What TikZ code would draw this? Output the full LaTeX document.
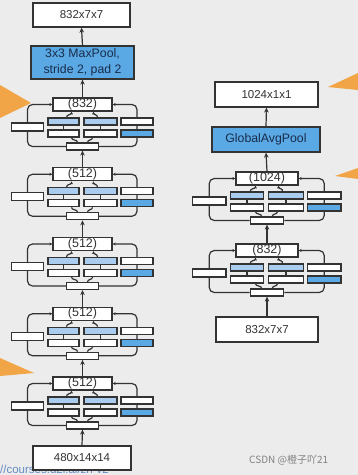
\documentclass[tikz,border=0pt]{standalone}
\usepackage{fontspec}
\setmainfont{Liberation Sans}
\newfontfamily\cjkfont{Noto Sans CJK SC}
\usetikzlibrary{arrows.meta,calc}
\pgfdeclarelayer{back}
\pgfdeclarelayer{lines}
\pgfsetlayers{back,lines,main}
\definecolor{bgc}{RGB}{236,236,236}
\definecolor{linec}{RGB}{51,51,51}
\definecolor{dblue}{RGB}{90,168,228}
\definecolor{lblue}{RGB}{170,204,238}
\definecolor{orangeA}{RGB}{242,165,70}
\definecolor{wmc}{RGB}{130,130,130}
\definecolor{urlc}{RGB}{100,140,195}

\newcommand{\incblock}[5]{%
\begin{scope}[shift={(#2,#3)},xscale=#5]
\node[box,minimum width=#5*59pt,minimum height=13pt,font=\fontsize{12.5}{13}\selectfont] (#1-cat) at (0,6.5) {#4};
\node[sbox,minimum width=#5*32pt] (#1-in) at (0,48.5) {};
\node[sbox,minimum width=#5*32pt,minimum height=8pt] (#1-p1) at (-55,29) {};
\node[sbox,fill=lblue,minimum width=#5*31pt] (#1-p2a) at (-19,23.5) {};
\node[sbox,minimum width=#5*31pt] (#1-p2b) at (-19,35.5) {};
\node[sbox,fill=lblue,minimum width=#5*33pt] (#1-p3a) at (18,23.5) {};
\node[sbox,minimum width=#5*33pt] (#1-p3b) at (18,35.5) {};
\node[sbox,minimum width=#5*32pt] (#1-p4a) at (54.5,23.5) {};
\node[sbox,fill=dblue,minimum width=#5*32pt] (#1-p4b) at (54.5,35.5) {};
\begin{pgfonlayer}{lines}
\draw[sarr,rounded corners=5pt] (#1-in.west) -| (#1-p1.center) |- (#1-cat.west);
\draw[sarr,rounded corners=5pt] (#1-in.east) -| (#1-p4b.center) |- (#1-cat.east);
\end{pgfonlayer}
\draw[lnk] (#1-p2b.north) -- (#1-p2a.south);
\draw[lnk] (#1-p3b.north) -- (#1-p3a.south);
\draw[lnk] ($(#1-in.north)+(-5,0)$) .. controls +(0,-3) and +(0,3) .. ($(#1-p2b.south)+(8,0)$);
\draw[lnk] ($(#1-in.north)+(5,0)$) .. controls +(0,-3) and +(0,3) .. ($(#1-p3b.south)+(-8,0)$);
\draw[sarr] ($(#1-p2a.north)+(3,0)$) .. controls +(0,-3) and +(0,3) .. ($(#1-cat.south)+(-11,0)$);
\draw[sarr] ($(#1-p3a.north)+(-3,0)$) .. controls +(0,-3) and +(0,3) .. ($(#1-cat.south)+(11,0)$);
\end{scope}}

\begin{document}
\begin{tikzpicture}[x=1pt,y=-1pt,
  box/.style={draw=linec,line width=1.2pt,fill=white,inner sep=0pt,text=linec,font=\fontsize{11.5}{13}\selectfont},
  bbox/.style={box,fill=dblue,text={rgb,255:red,25;green,45;blue,75},font=\fontsize{12.3}{16}\selectfont},
  sbox/.style={draw=linec,line width=1.2pt,fill=white,inner sep=0pt,minimum height=7pt},
  lnk/.style={draw=linec,line width=1.2pt},
  arr/.style={lnk,-{Stealth[length=5pt,width=4.5pt]}},
  sarr/.style={lnk,-{Stealth[length=3pt,width=3pt]}},
]
\begin{pgfonlayer}{back}
\fill[bgc] (0,0) rectangle (358,475);
\end{pgfonlayer}
\useasboundingbox (0,0) rectangle (358,475);

% orange pointers
\fill[orangeA] (0,85) -- (31,103) -- (0,118) -- cycle;
\fill[orangeA] (328,87) -- (358,73) -- (358,90) -- cycle;
\fill[orangeA] (335,176) -- (358,168) -- (358,179) -- cycle;
\fill[orangeA] (0,358) -- (34,373) -- (0,376) -- cycle;

% left column
\node[box,minimum width=97pt,minimum height=24pt] (out1) at (81.5,15) {832x7x7};
\node[bbox,minimum width=103pt,minimum height=33pt,align=center] (mp) at (82.5,62.5) {3x3 MaxPool,\\stride 2, pad 2};
\incblock{a}{82.5}{98}{(832)}{1}
\incblock{b}{82.5}{167.75}{(512)}{1}
\incblock{c}{82.5}{237.5}{(512)}{1}
\incblock{d}{82.5}{307.25}{(512)}{1}
\incblock{e}{82.5}{377}{(512)}{1}
\node[box,minimum width=98pt,minimum height=24pt] (in1) at (82,458) {480x14x14};
\draw[arr] (in1.north) -- (e-in.south);
\draw[arr] (e-cat.north) -- (d-in.south);
\draw[arr] (d-cat.north) -- (c-in.south);
\draw[arr] (c-cat.north) -- (b-in.south);
\draw[arr] (b-cat.north) -- (a-in.south);
\draw[arr] (a-cat.north) -- (mp.south);
\draw[arr] (mp.north) -- (out1.south);

% right column
\node[box,minimum width=103pt,minimum height=25pt] (out2) at (266.5,94.5) {1024x1x1};
\node[bbox,minimum width=108pt,minimum height=25pt] (gap) at (266,139.5) {GlobalAvgPool};
\incblock{f}{267}{172}{(1024)}{1.05}
\incblock{g}{267}{244}{(832)}{1.05}
\node[box,minimum width=102pt,minimum height=25pt] (in2) at (267,329.5) {832x7x7};
\draw[arr] (in2.north) -- (g-in.south);
\draw[arr] (g-cat.north) -- (f-in.south);
\draw[arr] (f-cat.north) -- (gap.south);
\draw[arr] (gap.north) -- (out2.south);

% url fragment and watermark
\begin{pgfonlayer}{lines}
\node[anchor=base west,inner sep=0pt,text=urlc,font=\fontsize{11.5}{14}\selectfont] (url) at (0,473.5) {\underline{//courses.d2l.ai/zh-v2}};
\end{pgfonlayer}
\node[anchor=west,inner sep=0pt,text=wmc,font=\cjkfont\fontsize{10}{12}\selectfont] (wm) at (249,460) {CSDN @橙子吖21};
\end{tikzpicture}
\end{document}
